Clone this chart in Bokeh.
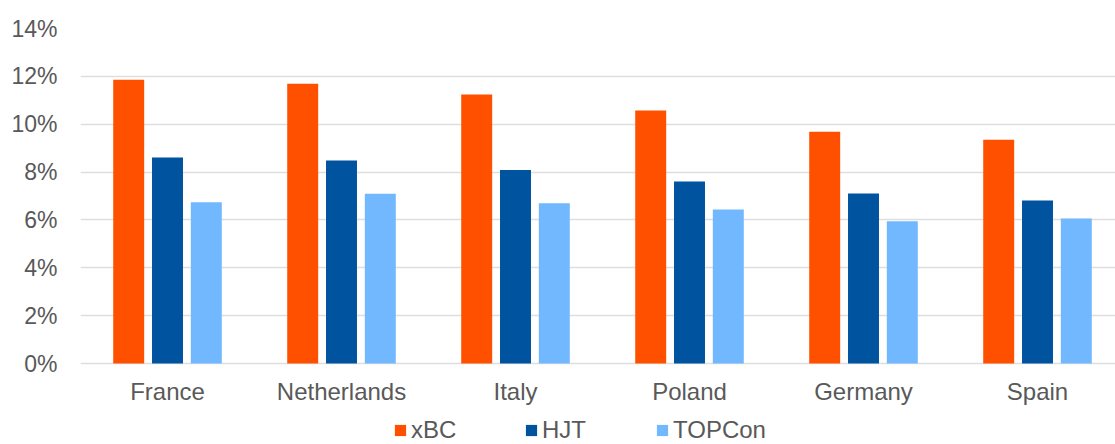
import numpy as np
from bokeh.plotting import figure
from bokeh.models import ColumnDataSource, Range1d, Legend, LegendItem, PrintfTickFormatter, FixedTicker
from bokeh.core.properties import value
from bokeh.transform import dodge
from bokeh.embed import file_html
from bokeh.resources import INLINE

countries = ["France", "Netherlands", "Italy", "Poland", "Germany", "Spain"]
xbc = [11.86, 11.69, 11.24, 10.57, 9.69, 9.35]
hjt = [8.61, 8.48, 8.09, 7.61, 7.10, 6.81]
topcon = [6.74, 7.09, 6.70, 6.44, 5.95, 6.06]
y_ticks = [0, 2, 4, 6, 8, 10, 12, 14]

FONT = "Liberation Sans"
TXT = "#595959"

# category slots: one unit per country, centred on the half unit
xpos = np.arange(len(countries)) + 0.5
source = ColumnDataSource(dict(x=xpos, country=countries, xBC=xbc, HJT=hjt, TOPCon=topcon))

W, H = 1115, 444
LEFT, TOP = 80, 28
SLOT_PX = 174.0           # pixel width of one country slot
AXIS_PX = 335.0           # pixel height of the 0..14 % span
frame_w = W - LEFT
frame_h = H - TOP
y_top = y_ticks[-1]
y_bottom = y_top - frame_h / (AXIS_PX / y_top)

p = figure(x_range=Range1d(0, frame_w / SLOT_PX), y_range=Range1d(y_bottom, y_top),
           width=W, height=H, output_backend="svg", toolbar_location=None,
           min_border_left=LEFT, min_border_right=0, min_border_top=TOP, min_border_bottom=0)
p.outline_line_color = None
p.xaxis.visible = False

BW = 0.178
OFF = 0.223
r1 = p.vbar(x=dodge("x", -OFF), top="xBC", width=BW, source=source,
            fill_color="#FF5000", line_color=None)
r2 = p.vbar(x=dodge("x", 0.0), top="HJT", width=BW, source=source,
            fill_color="#00539F", line_color=None)
r3 = p.vbar(x=dodge("x", OFF), top="TOPCon", width=BW, source=source,
            fill_color="#72B8FF", line_color=None)

# category labels under the baseline
p.text(x="x", y=0, text="country", source=source, y_offset=28,
       text_align="center", text_baseline="alphabetic",
       text_font=value(FONT), text_font_size="24px", text_color=TXT)

p.xgrid.grid_line_color = None
p.ygrid.grid_line_color = "#dedede"
p.ygrid.grid_line_width = 1.5
p.ygrid.ticker = FixedTicker(ticks=y_ticks)

p.yaxis.ticker = FixedTicker(ticks=y_ticks)
p.yaxis.formatter = PrintfTickFormatter(format="%d%%")
p.yaxis.axis_line_color = None
p.yaxis.major_tick_line_color = None
p.yaxis.minor_tick_line_color = None
p.yaxis.major_label_text_font = FONT
p.yaxis.major_label_text_font_size = "23px"
p.yaxis.major_label_text_color = TXT
p.yaxis.major_label_standoff = 17

legend = Legend(items=[LegendItem(label="xBC", renderers=[r1]),
                       LegendItem(label="HJT", renderers=[r2]),
                       LegendItem(label="TOPCon", renderers=[r3])],
                orientation="horizontal", location=(313, 0),
                glyph_width=14, glyph_height=14, label_standoff=4,
                label_width=113, spacing=0, padding=0, margin=0,
                border_line_color=None, background_fill_alpha=0,
                label_text_font=FONT, label_text_font_size="24px",
                label_text_color=TXT)
p.add_layout(legend, "center")

open("out.html", "w").write(file_html(p, INLINE))
